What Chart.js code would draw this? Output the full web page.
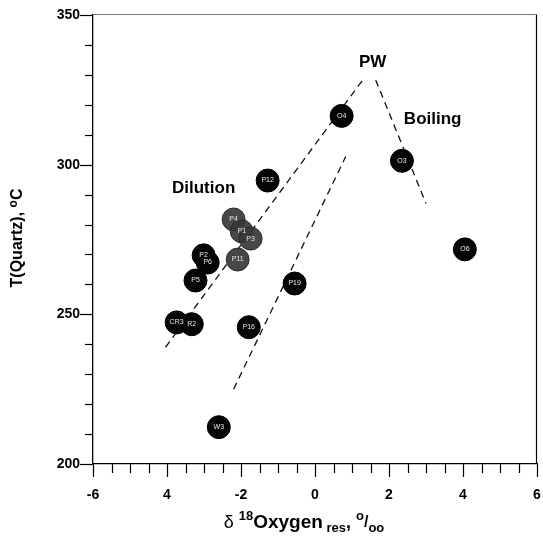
<!DOCTYPE html>
<html>
<head>
<meta charset="utf-8">
<script src="https://cdn.jsdelivr.net/npm/chart.js@4.4.1/dist/chart.umd.min.js"></script>
<style>
html,body{margin:0;padding:0;background:#fff;}
#wrap{width:543px;height:539px;position:relative;}
</style>
</head>
<body>
<div id="wrap"><canvas id="c" width="543" height="539"></canvas></div>
<script>
// ---- data ----
const blackLabels = ['O4','O3','O6','P12','P2','P6','P5','CR3','R2','P16','P19','W3'];
const blackX = [0.72, 2.35, 4.05, -1.28, -3.01, -2.90, -3.23, -3.74, -3.33, -1.79, -0.55, -2.60];
const blackY = [316.3, 301.3, 271.7, 294.7, 269.7, 267.3, 261.3, 247.3, 246.7, 245.7, 260.3, 212.3];

const greyLabels = ['P4','P1','P3','P11'];
const greyX = [-2.20, -1.98, -1.74, -2.09];
const greyY = [281.7, 277.7, 275.3, 268.3];

const dilutionUpperX = [-4.04, 1.29];
const dilutionUpperY = [239, 328.3];
const dilutionLowerX = [-2.20, 0.83];
const dilutionLowerY = [225, 302.7];
const boilingX = [1.64, 3.0];
const boilingY = [328.3, 287];

const noteTexts = ['PW', 'Boiling', 'Dilution'];
const noteX = [1.56, 3.18, -3.01];
const noteY = [334.3, 315.3, 292];

const xTickValues = [-6, -4, -2, 0, 2, 4, 6];
const xTickLabels = ['-6', '4', '-2', '0', '2', '4', '6'];
const yTickValues = [200, 250, 300, 350];
const yTickLabels = ['200', '250', '300', '350'];

const FONT = "'Liberation Sans', Arial, sans-serif";

function pts(xs, ys){ return xs.map((x,i)=>({x:x, y:ys[i]})); }

const lineStyle = {
  type:'line', showLine:true, borderColor:'#111', borderWidth:1.3,
  borderDash:[7,5], pointRadius:0, fill:false, order:3, tension:0
};

const decor = {
  id:'decor',
  afterDatasetsDraw(chart){
    const ctx = chart.ctx;
    const xs = chart.scales.x, ys = chart.scales.y;
    const ca = chart.chartArea;
    ctx.save();
    ctx.strokeStyle = '#000'; ctx.lineWidth = 1.2;
    ctx.beginPath(); ctx.moveTo(ca.right-0.5, ca.top); ctx.lineTo(ca.right-0.5, ca.bottom); ctx.stroke();
    ctx.strokeStyle = '#777'; ctx.lineWidth = 1;
    ctx.beginPath(); ctx.moveTo(ca.left, ca.top-0.5); ctx.lineTo(ca.right, ca.top-0.5); ctx.stroke();
    ctx.strokeStyle = '#000'; ctx.lineWidth = 1.2;
    xs.ticks.forEach(t=>{
      const px = Math.round(xs.getPixelForValue(t.value))+0.5;
      const major = Math.abs(t.value % 2) < 1e-6;
      ctx.beginPath(); ctx.moveTo(px, ca.bottom); ctx.lineTo(px, ca.bottom + (major?13:9)); ctx.stroke();
    });
    ys.ticks.forEach(t=>{
      const py = Math.round(ys.getPixelForValue(t.value))+0.5;
      const major = Math.abs(t.value % 50) < 1e-6;
      ctx.beginPath(); ctx.moveTo(ca.left, py); ctx.lineTo(ca.left - (major?13:8), py); ctx.stroke();
    });
    ctx.textAlign='center'; ctx.textBaseline='middle';
    ctx.font = '7px ' + FONT;
    [[0, blackLabels],[1, greyLabels]].forEach(([di, labs])=>{
      const meta = chart.getDatasetMeta(di);
      meta.data.forEach((el,i)=>{
        ctx.fillStyle = '#e8e8e8';
        ctx.fillText(labs[i], el.x, el.y);
      });
    });
    ctx.fillStyle='#000';
    ctx.font = 'bold 17px ' + FONT;
    noteTexts.forEach((t,i)=>{
      ctx.fillText(t, xs.getPixelForValue(noteX[i]), ys.getPixelForValue(noteY[i]));
    });
    const parts = [
      {t:'\u03b4 ', f:'18px '+FONT, dy:0},
      {t:'18', f:'bold 13px '+FONT, dy:-8},
      {t:'Oxygen', f:'bold 19px '+FONT, dy:0},
      {t:' res', f:'bold 13px '+FONT, dy:4},
      {t:', ', f:'bold 18px '+FONT, dy:0},
      {t:'o', f:'bold 13px '+FONT, dy:-8},
      {t:'/', f:'bold 16px '+FONT, dy:-1},
      {t:'oo', f:'bold 13px '+FONT, dy:4}
    ];
    drawParts(ctx, parts, 304, 528);
    ctx.save();
    ctx.translate(16, 238);
    ctx.rotate(-Math.PI/2);
    drawParts(ctx, [
      {t:'T(Quartz), ', f:'bold 16px '+FONT, dy:0},
      {t:'o', f:'bold 12px '+FONT, dy:-5},
      {t:'C', f:'bold 16px '+FONT, dy:0}
    ], 0, 6);
    ctx.restore();
    ctx.restore();
  }
};
function drawParts(ctx, parts, cx, baseline){
  ctx.textAlign='left'; ctx.textBaseline='alphabetic'; ctx.fillStyle='#000';
  let total=0;
  parts.forEach(p=>{ ctx.font=p.f; p.w=ctx.measureText(p.t).width; total+=p.w; });
  let x = cx - total/2;
  parts.forEach(p=>{ ctx.font=p.f; ctx.fillText(p.t, x, baseline + p.dy); x+=p.w; });
  ctx.textAlign='center'; ctx.textBaseline='middle';
}

Chart.defaults.font.family = FONT;

new Chart(document.getElementById('c'), {
  type:'scatter',
  data:{
    datasets:[
      {label:'samples', data:pts(blackX, blackY), backgroundColor:'#050505', borderColor:'#000',
       borderWidth:1, pointRadius:11.5, pointHoverRadius:11.5, order:1},
      {label:'samples (grey)', data:pts(greyX, greyY), backgroundColor:'rgba(55,55,55,0.92)', borderColor:'rgba(40,40,40,0.9)',
       borderWidth:1, pointRadius:11.5, pointHoverRadius:11.5, order:2},
      Object.assign({label:'dilution 1', data:pts(dilutionUpperX, dilutionUpperY)}, lineStyle),
      Object.assign({label:'dilution 2', data:pts(dilutionLowerX, dilutionLowerY)}, lineStyle),
      Object.assign({label:'boiling', data:pts(boilingX, boilingY)}, lineStyle)
    ]
  },
  options:{
    responsive:false, animation:false, devicePixelRatio:1,
    layout:{autoPadding:false, padding:{top:15, right:6, left:0, bottom:0}},
    plugins:{legend:{display:false}, tooltip:{enabled:false}},
    scales:{
      x:{
        type:'linear', min:-6, max:6,
        afterFit(s){ s.height = 75; s.paddingLeft = 0; s.paddingRight = 0; },
        border:{display:true, color:'#000', width:1.3},
        grid:{display:true, drawOnChartArea:false, drawTicks:false},
        ticks:{
          stepSize:0.5, autoSkip:false, maxRotation:0, padding:23,
          color:'#000', font:{size:14, weight:'bold'},
          callback(v){ const i = xTickValues.indexOf(v); return i>=0 ? xTickLabels[i] : ''; }
        }
      },
      y:{
        type:'linear', min:200, max:350,
        afterFit(s){ s.width = 93; s.paddingTop = 0; s.paddingBottom = 0; },
        border:{display:true, color:'#000', width:1.3},
        grid:{display:true, drawOnChartArea:false, drawTicks:false},
        ticks:{
          stepSize:10, autoSkip:false, padding:13,
          color:'#000', font:{size:14, weight:'bold'},
          callback(v){ const i = yTickValues.indexOf(v); return i>=0 ? yTickLabels[i] : ''; }
        }
      }
    }
  },
  plugins:[decor]
});
</script>
</body>
</html>
